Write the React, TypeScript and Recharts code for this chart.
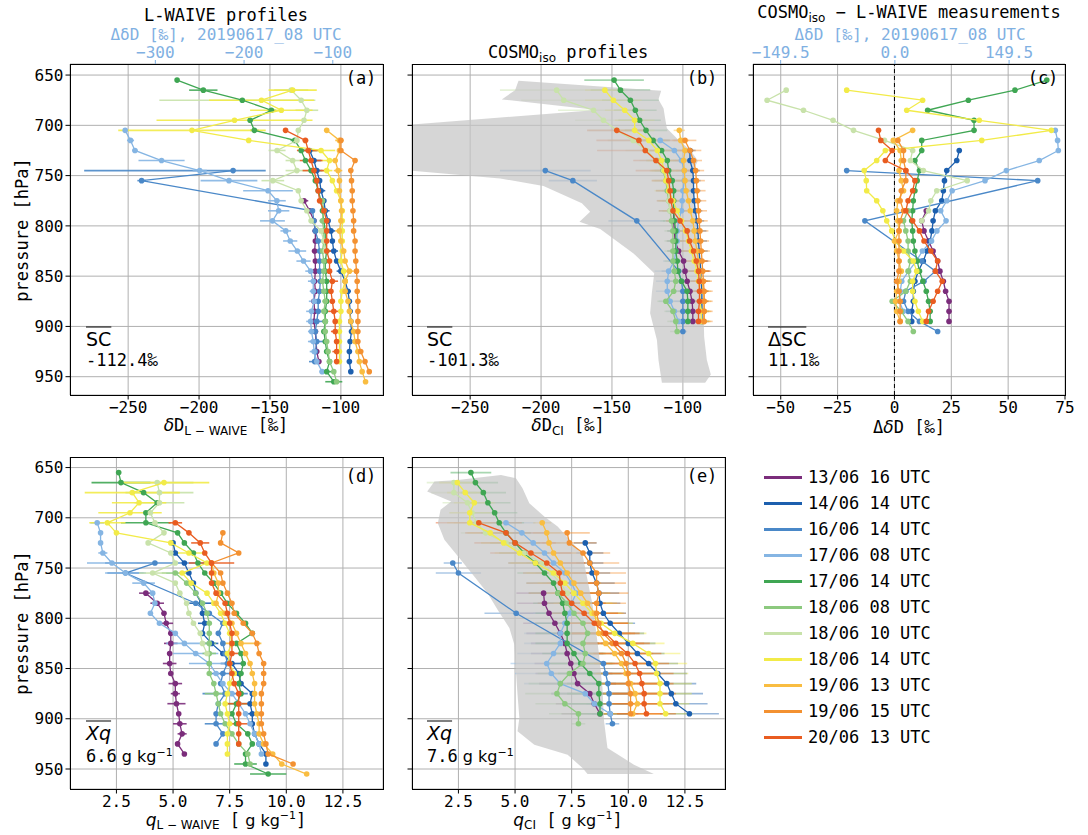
import React from "react";
import { ScatterChart, Scatter, XAxis, YAxis, CartesianGrid, ErrorBar, ReferenceLine } from "recharts";

// legend / series order
const NAMES = [
  "13/06 16 UTC", "14/06 14 UTC", "16/06 14 UTC", "17/06 08 UTC", "17/06 14 UTC", "18/06 08 UTC",
  "18/06 10 UTC", "18/06 14 UTC", "19/06 13 UTC", "19/06 15 UTC", "20/06 13 UTC",
];
const COLORS = [
  "#7b2d7b", "#1c5fae", "#4a88c8", "#85b5e3", "#3fa653", "#8cc97e",
  "#c8e2aa", "#f2eb48", "#f9bd41", "#f39131", "#e95c20",
];
const LB = "#7fb0e2";

const P_TICKS = [650, 700, 750, 800, 850, 900, 950];
const DD_TICKS = [-250, -200, -150, -100];
const DIFF_TICKS = [-50, -25, 0, 25, 50, 75];
const Q_TICKS = [2.5, 5, 7.5, 10, 12.5];
const TOP_A_TICKS = [-300, -200, -100];
const TOP_C_TICKS = [-149.5, 0, 149.5];

// rows are [pressure hPa, value, error half-width]
// (a) L-WAIVE dD ; 17/06 08 is read on the top axis
const A_PURPLE = [[775,-126,3],[785,-122,2],[795,-119],[805,-118,2],[815,-118],[825,-118.5,2],[835,-118],[845,-118,2],[855,-118.5],[865,-118,2],[875,-119],[885,-118.5,3],[895,-119],[905,-118,2],[915,-117.5],[925,-117],[935,-115.5]];
const A_DBLUE = [[725,-122,5],[735,-119,5],[745,-117,4],[755,-115],[765,-114,3],[775,-112],[785,-111,3],[795,-109],[805,-107,3],[815,-106],[825,-105,3],[835,-103],[845,-100,3],[855,-97],[865,-95,2],[875,-94],[885,-93.5,2],[895,-93],[905,-92.5],[915,-93.5],[925,-94],[935,-94],[945,-93]];
const A_MBLUE = [[745,-176,[105,23]],[755,-240.5,3],[785,-120],[795,-119],[805,-118,2],[815,-116],[825,-115,3],[835,-115],[845,-115,2],[855,-114.5],[865,-115,3],[875,-116],[885,-116,3],[895,-117,6],[905,-118],[915,-117,5],[925,-118],[935,-118.5,4]];
const A_LBLUE_TOP = [[705,-334,2],[715,-328,4],[725,-323,3],[735,-293,26],[745,-250,8],[755,-217,32],[765,-173,28],[775,-163,10],[785,-161,12],[795,-168,14],[805,-153,6],[815,-148,8],[825,-140,10],[835,-133,8],[845,-125,6],[855,-122,6],[865,-122,4],[875,-121,6],[885,-124,6],[895,-125,5],[905,-124,4],[915,-122,6],[925,-121,5],[935,-118,4],[945,-112,3]];
const A_GREEN = [[655,-215.5],[665,-197,10],[675,-169.5],[685,-149,3],[695,-164],[705,-161,3],[715,-132.5,3],[725,-128],[735,-125],[745,-121],[755,-118],[765,-116],[775,-114],[785,-113],[795,-112],[805,-111,2],[815,-111],[825,-110,2],[835,-111],[845,-111,2],[855,-110],[865,-110,2],[875,-110],[885,-111],[895,-111,2],[905,-112],[915,-111],[925,-110],[935,-108],[945,-110,4],[955,-105,6]];
const A_LGREEN = [[775,-113],[785,-112],[795,-113,2],[805,-112],[815,-112,2],[825,-113],[835,-112,2],[845,-112],[855,-113,2],[865,-112],[875,-111,2],[885,-112],[895,-111],[905,-111],[915,-110],[925,-109],[935,-108],[945,-105],[955,-103]];
const A_VLGREEN = [[665,-135,12],[675,-128,[100,10]],[685,-124,8],[695,-126],[705,-130],[715,-131],[725,-145,6],[735,-134,5],[745,-131,8],[755,-148,8],[765,-130],[775,-128],[785,-124],[795,-121],[805,-114],[815,-112],[825,-111]];
const A_YELLOW = [[665,-134,17],[675,-156,37],[685,-142,22],[695,-175,55],[705,-205,52],[715,-165],[725,-114,10],[735,-108,6],[745,-110,4],[755,-106],[765,-103],[775,-100],[785,-99],[795,-99],[805,-99],[815,-99],[825,-99],[835,-100],[845,-98],[855,-97],[865,-99],[875,-100],[885,-100],[895,-101],[905,-101],[915,-101],[925,-101],[935,-101]];
const A_LORANGE = [[705,-110],[715,-101,3],[725,-101],[735,-104],[745,-102,3],[755,-101],[765,-101],[775,-100],[785,-99.5],[795,-100],[805,-101,3],[815,-100],[825,-98],[835,-97],[845,-94,3],[855,-97],[865,-97],[875,-95],[885,-94],[895,-93],[905,-91],[915,-90],[925,-88],[935,-87],[945,-85],[955,-82.6]];
const A_ORANGE = [[715,-100],[725,-100],[735,-90],[745,-93],[755,-92.5],[765,-92],[775,-92],[785,-91.5],[795,-91],[805,-91],[815,-90],[825,-90],[835,-89.5],[845,-89],[855,-88.5],[865,-88.5],[875,-88],[885,-88],[895,-88],[905,-88],[915,-88],[925,-86],[935,-83],[945,-80]];
const A_RED = [[705,-139],[715,-125,2],[725,-123,8],[735,-121,8],[745,-119,8],[755,-117],[765,-116],[775,-115],[785,-112],[795,-110],[805,-110],[815,-110],[825,-110,3],[835,-108],[845,-108],[855,-106,4],[865,-107],[875,-106],[885,-105,4],[895,-104],[905,-104,3],[915,-103],[925,-103,3],[935,-103]];

// (b) COSMOiso dD
const B_PURPLE = [[785,-106.5,4],[795,-106.5,5],[805,-106,5],[815,-105.5,6],[825,-103,8],[835,-99.5,8],[845,-98.5,8],[855,-97,8],[865,-95,8],[875,-93.5,8],[885,-93,6],[895,-93,6]];
const B_DBLUE = [[725,-95,4],[735,-95,4],[745,-93,5],[755,-92.5,5],[765,-92.5,5],[775,-92,5],[785,-91.3,5],[795,-90,5],[805,-89.4,6],[815,-89,6],[825,-88.5,6],[835,-88,6],[845,-87.3,6],[855,-87,6],[865,-86.6,5],[875,-86.6,5],[885,-86.6,5],[895,-86.6,5]];
const B_MBLUE = [[745,-197,32],[755,-177.6,17],[795,-132.5,20],[845,-103,12],[855,-101,8],[865,-100,6],[875,-100,6],[885,-100,5],[895,-100,5],[905,-100,3]];
const B_LBLUE = [[715,-116,6],[725,-106,6],[735,-101,6],[745,-99,6],[755,-99,6],[765,-100,6],[775,-100.5,6],[785,-101,6],[795,-103,6],[805,-104,6],[815,-104,6],[825,-105,6],[835,-106,8],[845,-110,10],[855,-111,8],[865,-111,8],[875,-109,8],[885,-106,6],[895,-103,6]];
const B_GREEN = [[655,-148.5,21],[665,-144,21],[675,-137,20],[685,-133.5,15],[695,-130.5,15],[705,-126,15],[715,-121,12],[725,-115,12],[735,-111,10],[745,-110,10],[755,-107.5,8],[765,-106.5,8],[775,-106.5,8],[785,-106.5,8],[795,-106,8],[805,-105,6],[815,-105,6],[825,-105,6],[835,-104,6],[845,-103.5,6],[855,-101,6],[865,-97,6],[875,-96.5,6],[885,-96.5,6],[895,-96.5,6]];
const B_LGREEN = [[735,-118,8],[745,-114,8],[755,-112,8],[765,-111,8],[775,-110,8],[785,-109,8],[795,-108,8],[805,-107,6],[815,-107,6],[825,-107,6],[835,-107,6],[845,-106,6],[855,-105,6],[865,-106.5,6],[875,-112,6],[885,-107,6],[895,-105,6],[905,-104,5]];
const B_VLGREEN = [[665,-189,40],[675,-184,30],[685,-163,25],[695,-156,20],[705,-146.5,20],[715,-135,18],[725,-125.5,15],[735,-118.5,12],[745,-113.5,10],[755,-111,10],[765,-110,8],[775,-110,8],[785,-109,8]];
const B_YELLOW = [[665,-155,14],[675,-149,20],[685,-141,14],[695,-134,14],[705,-134,14],[715,-124,12],[725,-118,12],[735,-115,10],[745,-113,10],[755,-112,10],[765,-110,10],[775,-107,10],[785,-104,10],[795,-101,10],[805,-98,10],[815,-96,10],[825,-94,8],[835,-92,8],[845,-90,8],[855,-89,6],[865,-88,6],[875,-88,6],[885,-87,6],[895,-87,6]];
const B_LORANGE = [[705,-102.5,4],[715,-101.5,6],[725,-98.5,6],[735,-99.5,6],[745,-99,6],[755,-98.5,6],[765,-97.7,6],[775,-96,6],[785,-94.8,6],[795,-93,6],[805,-92,6],[815,-91.3,6],[825,-90,6],[835,-89,6],[845,-88,6],[855,-86.6,6],[865,-85.4,5],[875,-85,5],[885,-85,5],[895,-85.4,5]];
const B_ORANGE = [[715,-98.5,8],[725,-95,8],[735,-92.5,6],[745,-91,6],[755,-90.5,6],[765,-90,6],[775,-89.5,6],[785,-89,6],[795,-88.5,6],[805,-88,6],[815,-87.5,6],[825,-87,6],[835,-86.5,6],[845,-86,6],[855,-85.5,6],[865,-85,6],[875,-85,6],[885,-85,6],[895,-85,6]];
const B_RED = [[705,-146.6,21],[715,-131,30],[725,-126.5,34],[735,-119,16],[745,-111.3,22],[755,-110,12],[765,-109,10],[775,-108.5,10],[785,-107,10],[795,-102,10],[805,-97,10],[815,-95.3,8],[825,-92.5,8],[835,-90.6,8],[845,-89,8],[855,-88.5,6],[865,-88.3,6],[875,-88.3,6],[885,-89,6],[895,-89,6]];
// model spread polygon (b): [p, dD] around the outline
const B_BAND = [[655.6,-215.9],[665,-218.3],[674.2,-227.7],[684.8,-160.7],[699.1,-291],[745.1,-291],[752.8,-228.8],[760.4,-198.3],[777.6,-171.2],[785.9,-165.4],[795.9,-172.9],[803.2,-158.3],[827.4,-134.8],[847.2,-120.2],[867.1,-121.9],[887,-123.1],[913.5,-118.3],[933.4,-117.2],[956,-114.8],[956,-84.3],[947.7,-80.3],[933.4,-83.1],[910.2,-85],[887,-85.4],[860.5,-86.6],[834,-87.8],[800.8,-89],[777.6,-92],[744.5,-92.5],[735.2,-89.4],[724.6,-94.8],[714.6,-103.1],[703,-111.3],[693.1,-112.5],[683.2,-113.6],[674.2,-117.2],[665.6,-115.3]];

// (c) COSMOiso - L-WAIVE ; 17/06 08 on the top axis
const C_PURPLE = [[785,14],[795,12],[805,13],[815,15],[825,17],[835,19],[845,20],[855,21.5],[865,22.5],[875,24],[885,24],[895,24]];
const C_DBLUE = [[725,28.5],[735,27.4],[745,23],[755,22],[765,21.5],[775,20.8],[785,18],[795,17],[805,16.5],[815,15.7],[825,14.3],[835,12.7],[845,10.5],[855,9],[865,8.3],[875,8.3],[885,7.6],[895,7.6]];
const C_MBLUE = [[745,-21],[755,63],[795,-13],[835,12],[845,18],[855,13],[865,5],[875,4],[885,6],[895,11],[905,19]];
const C_LBLUE_TOP = [[705,210],[715,213],[725,214],[735,189],[745,146],[755,118],[765,75],[775,68],[785,60],[795,67],[805,55],[815,48],[825,36],[835,28],[845,18],[855,9],[865,7],[875,6],[885,11]];
const C_GREEN = [[655,67],[665,53],[675,32.5],[685,14.6],[695,35],[705,35],[715,12],[725,12],[735,9],[745,11],[755,10],[765,9],[775,8.3],[785,8],[795,7.6],[805,8],[815,8.3],[825,9],[835,10],[845,11],[855,12.5],[865,14],[875,15],[885,15.7],[895,15.7]];
const C_LGREEN = [[785,6],[795,4],[805,5],[815,6],[825,6],[835,7],[845,6],[855,7],[865,5],[875,-1],[885,3],[895,6],[905,8.3]];
const C_VLGREEN = [[665,-47.6],[675,-56],[685,-40],[695,-27],[705,-18],[715,-4.4],[725,8],[735,7],[745,12.7],[755,32],[765,18.6],[775,16],[785,15],[795,12]];
const C_YELLOW = [[665,-21],[675,12.4],[685,5.4],[695,37.3],[705,69],[715,38.4],[725,-4],[735,-7.8],[745,-13.3],[755,-12.4],[765,-12.2],[775,-7.8],[785,-5.1],[795,-3.4],[805,-1.2],[815,0.3],[825,4],[835,8.3],[845,9.8],[855,8],[865,8],[875,9],[885,10.5],[895,12.4]];
const C_LORANGE = [[705,8],[715,-0.5],[725,2.5],[735,3],[745,2],[755,3],[765,4],[775,1.5],[785,1],[795,1.5],[805,2],[815,0],[825,1],[835,2],[845,3],[855,2],[865,1],[875,0.5],[885,1],[895,2.5]];
const C_ORANGE = [[715,1.5],[725,4],[735,4],[745,5],[755,5],[765,3],[775,2.5],[785,4],[795,2.5],[805,2],[815,2],[825,2],[835,2],[845,2],[855,1],[865,2],[875,2.5],[885,2.5],[895,2.5]];
const C_RED = [[705,-7],[715,-6],[725,-1],[735,-4],[745,5],[755,9],[765,8],[775,6],[785,5],[795,8],[805,11],[815,13],[825,16],[835,19],[845,18],[855,21],[865,19],[875,17],[885,15],[895,14]];

// (d) L-WAIVE q
const D_PURPLE = [[775,3.8,0.3],[785,4.3,0.3],[795,4.6],[805,4.7,0.3],[815,4.9],[825,4.9,0.3],[835,4.85],[845,4.85,0.3],[855,4.9],[865,5.1,0.3],[875,5.1,0.2],[885,5.15,0.4],[895,5.25],[905,5.3,0.3],[915,5.4,0.2],[925,5.2],[935,5.5]];
const D_DBLUE = [[725,5.0],[735,5.1],[745,5.5],[755,5.7],[765,5.9],[775,6.0],[785,6.25,0.6],[795,6.3],[805,6.4,0.3],[815,6.3],[825,6.7,0.3],[835,7.2],[845,7.6,0.5],[855,7.9],[865,8.0],[875,8.5],[885,8.4],[895,8.5,0.3],[905,8.5],[915,8.6],[925,8.8],[935,9.1],[945,9.1]];
const D_MBLUE = [[745,4.2,2.2],[755,2.9,0.8],[785,6.0],[795,6.6],[805,7.2],[815,7.0],[825,7.2],[835,7.3],[845,7.4],[855,7.2,0.6],[865,7.1],[875,7.3,1.0],[885,7.0],[895,6.9],[905,6.9,0.5],[915,7.2],[925,6.9]];
const D_LBLUE = [[705,1.65,0.3],[715,1.8],[725,1.8],[735,1.9,0.2],[745,2.3,1.1],[755,2.9,0.9],[765,3.7,0.5],[775,4.1],[785,4.2],[795,4.0],[805,4.4],[815,5.1],[825,5.5,0.8],[835,6.0,1.0],[845,6.6,0.9],[855,6.9],[865,7.2],[875,7.6],[885,7.9],[895,8.2],[905,8.4],[915,8.6],[925,8.8],[935,8.9]];
const D_GREEN = [[655,2.6],[665,2.7,1.3],[675,3.7],[685,4.3],[695,3.8],[705,3.8,1.1],[715,5.2],[725,5.5],[735,5.9],[745,6.1],[755,6.4],[765,6.8],[775,7.1],[785,7.4],[795,7.8],[805,8.2],[815,8.5],[825,7.8],[835,8.0],[845,8.1],[855,8.0],[865,7.9],[875,8.0],[885,7.8,0.6],[895,7.6],[905,7.8],[915,8.3],[925,8.5],[935,8.2],[945,8.2,0.5],[955,9.2,0.8]];
const D_LGREEN = [[755,5.1,0.6],[765,5.6],[775,6.0],[785,6.3],[795,6.5],[805,6.6],[815,6.6],[825,6.6,0.3],[835,6.6,0.3],[845,6.6],[855,6.6],[865,6.8],[875,6.9,0.5],[885,7.0],[895,7.1],[905,7.3],[915,7.6],[925,7.9],[935,8.3],[945,8.4]];
const D_VLGREEN = [[665,4.3,1.6],[675,4.4,1.5],[685,4.4,1.1],[695,4.0],[705,4.2],[715,4.6],[725,3.9],[735,4.9],[745,5.1],[755,4.1,0.6],[765,5.1],[775,5.3],[785,5.6],[795,5.7],[805,5.9],[815,6.2],[825,6.3],[835,6.5]];
const D_YELLOW = [[665,4.6,2.0],[675,3.2,2.1],[685,3.5,1.2],[695,3.1,1.4],[705,2.1,0.8],[715,2.5],[725,4.9],[735,5.7,0.8],[745,6.5],[755,5.4],[765,5.8],[775,6.5],[785,6.8],[795,7.1],[805,7.3],[815,7.5],[825,7.6],[835,7.4],[845,7.5],[855,7.7],[865,7.5],[875,7.4],[885,7.3],[895,7.4],[905,7.5],[915,7.4],[925,7.4],[935,7.4]];
const D_LORANGE = [[745,6.7],[755,6.8],[765,7.0],[775,7.0],[785,6.9],[795,7.3],[805,7.6],[815,7.8],[825,8.0,0.9],[835,8.2],[845,8.4],[855,8.5],[865,8.6],[875,8.6],[885,8.6],[895,8.7],[905,8.8],[915,8.8],[925,9.0],[935,9.4],[945,9.8],[955,10.9]];
const D_ORANGE = [[715,7.2],[725,7.1],[735,7.9],[745,6.7],[755,7.1],[765,7.2],[775,7.4],[785,7.6],[795,7.7],[805,8.1],[815,8.5],[825,8.7],[835,8.8],[845,9.0],[855,9.0],[865,9.0],[875,8.9],[885,8.9],[895,8.9],[905,8.9],[915,9.0],[925,9.1],[935,9.2],[945,10.3]];
const D_RED = [[705,5.1,0.3],[715,5.7],[725,6.2,0.4],[735,6.4],[745,6.7,1.0],[755,6.7],[765,6.7],[775,6.9],[785,7.3],[795,7.4],[805,7.5],[815,7.6],[825,7.6],[835,7.6,0.5],[845,7.5],[855,7.6],[865,7.7],[875,7.9],[885,7.9,0.5],[895,7.9],[905,7.9,0.4],[915,7.9],[925,7.9]];

// (e) COSMOiso q
const E_PURPLE = [[775,6.26,1.2],[785,6.3,1.2],[795,6.5,1.3],[805,6.76,1.4],[815,7.0,1.5],[825,7.2,1.5],[835,7.3,1.6],[845,7.46,1.6],[855,7.6,1.7],[865,7.76,1.7],[875,8.3,1.7],[885,8.5,1.7],[895,8.75,1.7]];
const E_DBLUE = [[725,8.1,0.5],[735,8.3,0.6],[745,8.3,0.6],[755,8.4,0.8],[765,8.6,0.8],[775,8.7,0.9],[785,8.75,0.9],[795,8.9,1.0],[805,9.2,1.1],[815,9.6,1.1],[825,10.0,1.2],[835,10.4,1.2],[845,10.9,1.3],[855,11.3,1.3],[865,11.7,1.3],[875,11.9,1.4],[885,12.1,1.4],[895,12.7,1.3]];
const E_MBLUE = [[745,2.25,0.4],[755,2.5,1.0],[795,5.05,1.4],[845,8.9,1.2],[855,9.0,1.2],[865,9.1,1.2],[875,9.15,1.1],[885,9.15,1.0],[895,9.2,0.8],[905,9.3,0.3]];
const E_LBLUE = [[705,4.6,1.3],[715,5.3,1.2],[725,5.8,1.2],[735,6.3,1.2],[745,6.7,1.2],[755,7.2,1.3],[765,7.5,1.3],[775,7.7,1.4],[785,7.5,1.5],[795,7.4,1.6],[805,7.2,1.6],[815,7.0,1.6],[825,7.0,1.6],[835,6.7,1.6],[845,6.4,1.6],[855,6.6,1.6],[865,7.0,1.6],[875,8.1,1.5],[885,8.5,1.3],[895,9.2,1.0]];
const E_GREEN = [[655,3.05,0.9],[665,3.25,1.0],[675,3.6,1.0],[685,3.8,1.0],[695,4.1,1.0],[705,4.3,1.1],[715,4.6,1.1],[725,5.0,1.1],[735,5.4,1.1],[745,5.9,1.2],[755,6.3,1.2],[765,6.7,1.2],[775,6.9,1.3],[785,7.1,1.3],[795,7.2,1.3],[805,7.3,1.4],[815,7.3,1.4],[825,7.3,1.4],[835,7.6,1.4],[845,7.9,1.4],[855,8.3,1.4],[865,8.7,1.4],[875,8.7,1.4],[885,8.75,1.4],[895,8.75,1.3]];
const E_LGREEN = [[775,6.9,1.2],[785,7.3,1.2],[795,7.6,1.3],[805,8.0,1.3],[815,8.2,1.3],[825,8.0,1.4],[835,8.1,1.4],[845,8.0,1.4],[855,7.4,1.4],[865,7.0,1.4],[875,6.85,1.4],[885,7.2,1.3],[895,7.8,1.3],[905,7.8,0.3]];
const E_VLGREEN = [[665,2.3,1.2],[675,2.3,1.0],[685,2.9,1.1],[695,3.1,1.0],[705,3.3,1.0],[715,3.7,1.1],[725,4.6,1.1],[735,5.4,1.1],[745,6.2,1.2],[755,6.6,1.2],[765,7.0,1.2],[775,7.3,1.2]];
const E_YELLOW = [[665,2.45,0.8],[675,2.8,0.8],[685,3.2,0.9],[695,3.0,0.9],[705,3.0,1.0],[715,3.9,1.0],[725,4.5,1.0],[735,5.2,1.1],[745,5.9,1.1],[755,6.7,1.2],[765,7.2,1.2],[775,7.6,1.2],[785,8.0,1.3],[795,8.4,1.3],[805,8.8,1.4],[815,9.4,1.4],[825,10.2,1.4],[835,10.9,1.4],[845,11.2,1.4],[855,11.25,1.4],[865,11.4,1.4],[875,11.4,1.4],[885,11.4,1.3],[895,11.65,1.2]];
const E_LORANGE = [[705,6.2,0.4],[715,6.4,0.6],[725,6.5,0.8],[735,6.7,1.0],[745,7.0,1.1],[755,7.3,1.2],[765,7.6,1.2],[775,7.9,1.3],[785,8.2,1.3],[795,8.5,1.3],[805,8.6,1.4],[815,8.7,1.4],[825,9.0,1.4],[835,9.4,1.4],[845,9.7,1.4],[855,9.9,1.4],[865,10.1,1.4],[875,10.3,1.4],[885,10.4,1.4],[895,10.2,1.3]];
const E_ORANGE = [[715,7.3,1.0],[725,7.4,1.2],[735,8.0,1.2],[745,8.3,1.3],[755,8.6,1.3],[765,8.6,1.3],[775,8.7,1.3],[785,8.6,1.3],[795,8.6,1.3],[805,8.7,1.3],[815,8.9,1.4],[825,9.3,1.4],[835,9.7,1.4],[845,9.9,1.4],[855,10.0,1.4],[865,10.0,1.4],[875,10.1,1.4],[885,10.1,1.4],[895,10.1,1.4]];
const E_RED = [[705,3.4,1.9],[715,4.6,1.8],[725,5.0,1.8],[735,5.7,1.8],[745,6.4,1.7],[755,6.95,1.6],[765,7.0,1.5],[775,7.1,1.5],[785,7.5,1.5],[795,8.05,1.5],[805,8.5,1.5],[815,9.0,1.5],[825,9.45,1.5],[835,9.96,1.5],[845,10.3,1.5],[855,10.5,1.5],[865,10.6,1.4],[875,10.7,1.4],[885,10.7,1.4],[895,10.8,1.3]];
const E_BAND = [[663.9,1.44],[673.9,1.12],[683.8,2.18],[692.1,1.71],[705.4,1.59],[721.9,1.88],[740.1,2.54],[758.4,3.2],[775,3.79],[791.5,4.23],[809.8,4.75],[826.4,4.97],[852.9,5.04],[876.1,5.11],[899.3,5.19],[912.5,5.11],[925.8,5.85],[935.8,7.32],[949,7.98],[955,8.2],[955,11.13],[945.7,10.25],[929.1,9.08],[902.6,8.93],[869.5,8.86],[836.3,8.71],[809.8,8.56],[786.6,8.42],[736.9,7.98],[726.9,7.61],[708.7,6.88],[698.7,6.29],[685.5,5.63],[670.6,5.33],[660.6,5.04],[657.3,4.38],[662.3,2.47]];

const A_SETS = [A_PURPLE, A_DBLUE, A_MBLUE, A_LBLUE_TOP, A_GREEN, A_LGREEN, A_VLGREEN, A_YELLOW, A_LORANGE, A_ORANGE, A_RED];
const B_SETS = [B_PURPLE, B_DBLUE, B_MBLUE, B_LBLUE, B_GREEN, B_LGREEN, B_VLGREEN, B_YELLOW, B_LORANGE, B_ORANGE, B_RED];
const C_SETS = [C_PURPLE, C_DBLUE, C_MBLUE, C_LBLUE_TOP, C_GREEN, C_LGREEN, C_VLGREEN, C_YELLOW, C_LORANGE, C_ORANGE, C_RED];
const D_SETS = [D_PURPLE, D_DBLUE, D_MBLUE, D_LBLUE, D_GREEN, D_LGREEN, D_VLGREEN, D_YELLOW, D_LORANGE, D_ORANGE, D_RED];
const E_SETS = [E_PURPLE, E_DBLUE, E_MBLUE, E_LBLUE, E_GREEN, E_LGREEN, E_VLGREEN, E_YELLOW, E_LORANGE, E_ORANGE, E_RED];

const MONO = "'DejaVu Sans Mono', monospace";
const SANS = "'DejaVu Sans', sans-serif";
const YW = 50;
const XH = 30;
const RM = 10;

const toPts = (rows: any[]) => rows.map(([p, v, e]) => (e === undefined ? { p, v } : { p, v, e }));
const minus = (v: number) => (v < 0 ? "\u2212" + Math.abs(v) : String(v));
const fix1 = (v: number) => (v < 0 ? "\u2212" + Math.abs(v).toFixed(1) : v.toFixed(1));

const Txt = ({ x, y, children, size = 17, color = "#000", anchor = "middle", family = MONO, style = {} }: any) => (
  <div
    style={{
      position: "absolute", left: x, top: y, fontSize: size, color, fontFamily: family, whiteSpace: "nowrap", lineHeight: 1,
      transform: `translate(${anchor === "middle" ? "-50%" : anchor === "end" ? "-100%" : "0"}, -50%)`, ...style,
    }}
  >
    {children}
  </div>
);

const Panel = ({ left, top, w, h, xDomain, xTicks, xFmt, yDomain, yLabels, sets, topIdx, topAxis, band, errOpacity, zero }: any) => {
  const TOPH = topAxis ? 30 : 0;
  const tickStyle = { fill: "#000", fontSize: 16, fontFamily: MONO };
  return (
    <>
      <div style={{ position: "absolute", left: left - YW, top: top - TOPH }}>
        <ScatterChart width={YW + w + RM} height={TOPH + h + XH} margin={{ top: 0, right: RM, bottom: 0, left: 0 }}>
          <CartesianGrid stroke="#b0b0b0" strokeWidth={1} />
          <XAxis type="number" dataKey="v" domain={xDomain} ticks={xTicks} tickFormatter={xFmt} allowDataOverflow
            height={XH} axisLine={false} tickSize={4.5} tick={tickStyle} tickLine={{ stroke: "#000" }} interval={0} />
          {topAxis && (
            <XAxis xAxisId="top" orientation="top" type="number" dataKey="v" domain={topAxis.domain} ticks={topAxis.ticks}
              tickFormatter={topAxis.fmt} allowDataOverflow height={30} axisLine={false} tickSize={4}
              tick={{ ...tickStyle, fill: LB }} tickLine={{ stroke: LB }} interval={0} />
          )}
          <YAxis type="number" dataKey="p" domain={yDomain} reversed ticks={P_TICKS} allowDataOverflow width={YW}
            axisLine={false} tickSize={4.5} tick={tickStyle} tickLine={{ stroke: "#000" }} interval={0}
            tickFormatter={yLabels ? (v: number) => String(v) : () => ""} />
          {band && (
            <Scatter data={toPts(band)} isAnimationActive={false} fill="#c8c8c8" shape={() => <g />}
              line={(pr: any) => (
                <polygon points={pr.points.map((q: any) => `${q.x},${q.y}`).join(" ")} fill="#c4c4c4" fillOpacity={0.7} stroke="none" />
              )} />
          )}
          {zero && <ReferenceLine x={0} stroke="#000" strokeWidth={1} strokeDasharray="4 3" />}
          {sets.map((rows: any[], i: number) => {
            const c = COLORS[i];
            const onTop = topAxis && i === topIdx;
            return (
              <Scatter key={NAMES[i]} name={NAMES[i]} data={toPts(rows)} xAxisId={onTop ? "top" : 0} isAnimationActive={false}
                fill={c} line={{ stroke: c, strokeWidth: 1.3 }}
                shape={(pr: any) => <circle cx={pr.cx} cy={pr.cy} r={2.8} fill={c} />}>
                {errOpacity > 0 && (
                  <ErrorBar dataKey="e" direction="x" width={0} stroke={c} strokeWidth={1.6} strokeOpacity={errOpacity} />
                )}
              </Scatter>
            );
          })}
        </ScatterChart>
      </div>
      <div style={{ position: "absolute", left: left - 0.5, top: top - 0.5, width: w + 1, height: h + 1, border: "1px solid #000", boxSizing: "border-box", pointerEvents: "none" }} />
    </>
  );
};

const Mean = ({ x, y, label, value, unit }: any) => (
  <>
    <Txt x={x} y={y} anchor="start" family={SANS} size={19}><span style={{ textDecoration: "overline" }}>{label}</span></Txt>
    <Txt x={x} y={y + 21} anchor="start" size={17}>{value}{unit}</Txt>
  </>
);

const qUnit = (
  <span style={{ fontFamily: SANS, fontSize: 16 }}> g kg<sup style={{ fontSize: 11 }}>{"\u22121"}</sup></span>
);

export default function App() {
  const R1 = 64, H1 = 331, R2 = 457, H2 = 332;
  const L1 = 70, L2 = 412, L3 = 753, W = 313;
  const Y1: [number, number] = [639, 968.2];
  const Y2: [number, number] = [639.5, 969.9];
  const sub = { fontFamily: SANS, fontSize: 12, verticalAlign: "-0.3em" };
  return (
    <div style={{ position: "absolute", left: 0, top: 0, width: 1088, height: 835, background: "#fff", fontFamily: MONO, overflow: "hidden" }}>
      <Panel left={L1} top={R1} w={W} h={H1} xDomain={[-291, -70.3]} xTicks={DD_TICKS} xFmt={minus} yDomain={Y1} yLabels
        sets={A_SETS} topIdx={3} topAxis={{ domain: [-396.2, -43.4], ticks: TOP_A_TICKS, fmt: minus }} errOpacity={0.9} />
      <Panel left={L2} top={R1} w={W} h={H1} xDomain={[-291, -70.3]} xTicks={DD_TICKS} xFmt={minus} yDomain={Y1}
        sets={B_SETS} band={B_BAND} errOpacity={0.45} />
      <Panel left={L3} top={R1} w={W - 1} h={H1} xDomain={[-62.2, 75]} xTicks={DIFF_TICKS} xFmt={minus} yDomain={Y1}
        sets={C_SETS} topIdx={3} topAxis={{ domain: [-185.7, 222.7], ticks: TOP_C_TICKS, fmt: fix1 }} errOpacity={0} zero />
      <Panel left={L1} top={R2} w={W} h={H2} xDomain={[0.45, 14.27]} xTicks={Q_TICKS} xFmt={fix1} yDomain={Y2} yLabels
        sets={D_SETS} errOpacity={0.9} />
      <Panel left={L2} top={R2} w={W} h={H2} xDomain={[0.45, 14.27]} xTicks={Q_TICKS} xFmt={fix1} yDomain={Y2}
        sets={E_SETS} band={E_BAND} errOpacity={0.45} />

      {/* titles */}
      <Txt x={226} y={15}>L-WAIVE profiles</Txt>
      <Txt x={226} y={34.5} size={16} color={LB}>ΔδD [‰], 20190617_08 UTC</Txt>
      <Txt x={568} y={54}>COSMO<span style={sub}>iso</span> profiles</Txt>
      <Txt x={909} y={14}>COSMO<span style={sub}>iso</span> {"\u2212"} L-WAIVE measurements</Txt>
      <Txt x={910} y={34.5} size={16} color={LB}>ΔδD [‰], 20190617_08 UTC</Txt>

      {/* panel letters */}
      <Txt x={361} y={78}>(a)</Txt>
      <Txt x={702} y={78}>(b)</Txt>
      <Txt x={1043} y={78}>(c)</Txt>
      <Txt x={361} y={476}>(d)</Txt>
      <Txt x={702} y={476}>(e)</Txt>

      {/* means */}
      <Mean x={86} y={339} label="SC" value="-112.4" unit="‰" />
      <Mean x={427} y={339} label="SC" value="-101.3" unit="‰" />
      <Mean x={768} y={339} label="ΔSC" value="11.1" unit="‰" />
      <Txt x={86} y={733} anchor="start" family={SANS} size={19}><span style={{ textDecoration: "overline", fontStyle: "italic" }}>Xq</span></Txt>
      <Txt x={86} y={756} anchor="start">6.6{qUnit}</Txt>
      <Txt x={427} y={733} anchor="start" family={SANS} size={19}><span style={{ textDecoration: "overline", fontStyle: "italic" }}>Xq</span></Txt>
      <Txt x={427} y={756} anchor="start">7.6{qUnit}</Txt>

      {/* axis titles */}
      <Txt x={22} y={230} style={{ transform: "translate(-50%, -50%) rotate(-90deg)" }}>pressure [hPa]</Txt>
      <Txt x={22} y={623} style={{ transform: "translate(-50%, -50%) rotate(-90deg)" }}>pressure [hPa]</Txt>
      <Txt x={226} y={427}><i style={{ fontFamily: SANS }}>δ</i>D<span style={sub}>L {"\u2212"} WAIVE</span> [‰]</Txt>
      <Txt x={568} y={427}><i style={{ fontFamily: SANS }}>δ</i>D<span style={sub}>CI</span> [‰]</Txt>
      <Txt x={909} y={427}>Δ<i style={{ fontFamily: SANS }}>δ</i>D [‰]</Txt>
      <Txt x={226} y={821}><i style={{ fontFamily: SANS }}>q</i><span style={sub}>L {"\u2212"} WAIVE</span> [{qUnit}]</Txt>
      <Txt x={568} y={821}><i style={{ fontFamily: SANS }}>q</i><span style={sub}>CI</span> [{qUnit}]</Txt>

      {/* legend */}
      {NAMES.map((n, i) => (
        <React.Fragment key={n}>
          <div style={{ position: "absolute", left: 764, top: 477 + i * 26 - 1.5, width: 38, height: 3, background: COLORS[i] }} />
          <Txt x={808} y={477 + i * 26} anchor="start">{n}</Txt>
        </React.Fragment>
      ))}
    </div>
  );
}
